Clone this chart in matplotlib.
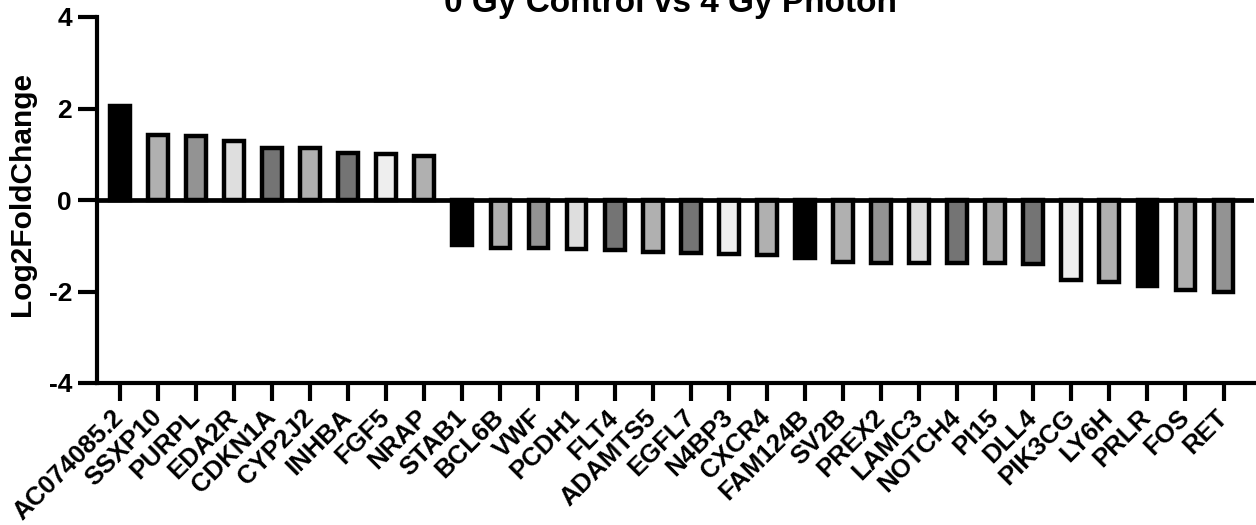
import matplotlib
matplotlib.use("Agg")
import matplotlib.pyplot as plt

# gene names and log2 fold change
genes = ["AC074085.2", "SSXP10", "PURPL", "EDA2R", "CDKN1A", "CYP2J2", "INHBA",
         "FGF5", "NRAP", "STAB1", "BCL6B", "VWF", "PCDH1", "FLT4", "ADAMTS5",
         "EGFL7", "N4BP3", "CXCR4", "FAM124B", "SV2B", "PREX2", "LAMC3",
         "NOTCH4", "PI15", "DLL4", "PIK3CG", "LY6H", "PRLR", "FOS", "RET"]
log2fc = [2.06, 1.43, 1.39, 1.30, 1.14, 1.13, 1.03, 1.01, 0.96,
          -0.98, -1.05, -1.05, -1.07, -1.10, -1.14, -1.15, -1.18, -1.21, -1.27,
          -1.35, -1.37, -1.37, -1.37, -1.37, -1.40, -1.74, -1.80, -1.87, -1.96, -2.01]
# grey fill cycle used by the bars
grey_cycle = ["#000000", "#b0b0b0", "#939393", "#dedede", "#747474",
              "#b0b0b0", "#747474", "#eeeeee", "#b0b0b0"]
yticks = [-4, -2, 0, 2, 4]

plt.rcParams["font.family"] = ["Liberation Sans", "DejaVu Sans"]
plt.rcParams["font.weight"] = "bold"

W, H = 1256, 525
fig = plt.figure(figsize=(W / 100, H / 100), dpi=100)
ax = fig.add_axes([97 / W, 1 - 383 / H, (1254 - 97) / W, (383 - 17) / H])

x = list(range(len(genes)))
colors = [grey_cycle[i % len(grey_cycle)] for i in x]
ax.bar(x, log2fc, width=0.52, color=colors, edgecolor="black", linewidth=3.2, zorder=2)
ax.axhline(0, color="black", linewidth=3.4, zorder=3)

ax.set_xlim(-0.6, 29.8)
ax.set_ylim(-4, 4)
ax.set_yticks(yticks)
ax.set_yticklabels([str(v) for v in yticks], fontsize=19, fontweight="bold")
ax.set_xticks(x)
ax.set_xticklabels(genes, rotation=45, ha="right", va="center",
                   rotation_mode="anchor", fontsize=18.5, fontweight="bold")

for side in ["top", "right"]:
    ax.spines[side].set_visible(False)
for side in ["left", "bottom"]:
    ax.spines[side].set_linewidth(3.0)
ax.tick_params(axis="y", length=14, width=3.0, pad=4)
ax.tick_params(axis="x", length=13, width=3.0, pad=9)

fig.text(22 / W, 1 - 194 / H, "Log2FoldChange", rotation=90, ha="center", va="center",
         fontsize=21.5, fontweight="bold")
fig.text(671 / W, 1 - 12 / H, "0 Gy Control vs 4 Gy Photon", ha="center", va="baseline",
         fontsize=24, fontweight="bold")

fig.savefig("out.png", dpi=100)
